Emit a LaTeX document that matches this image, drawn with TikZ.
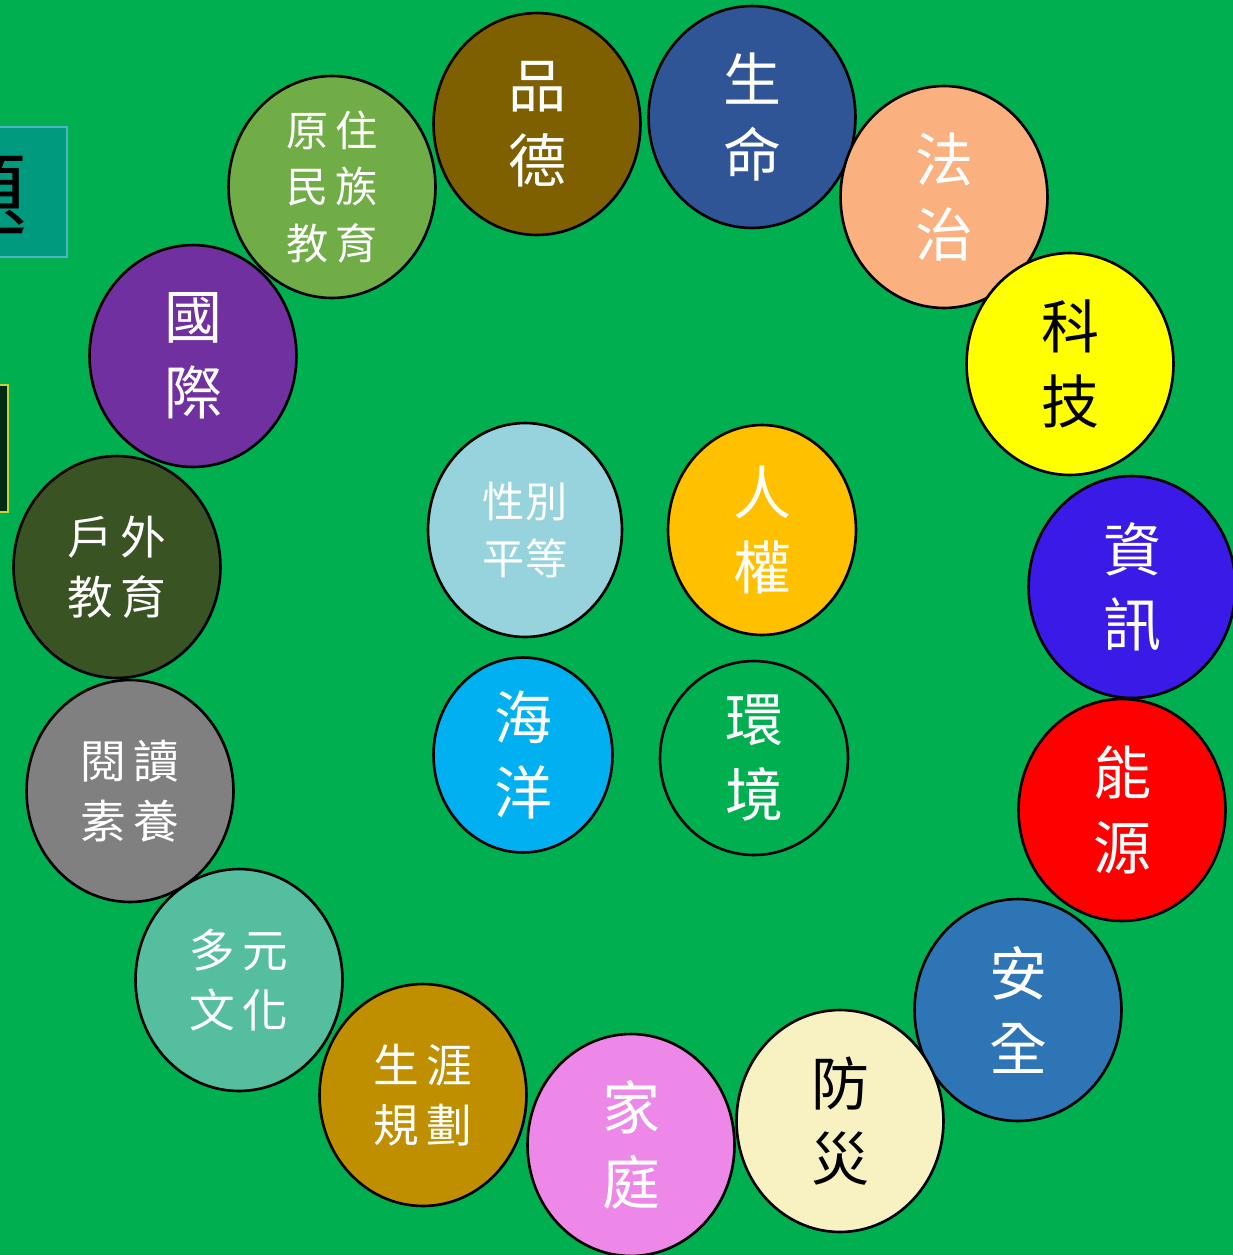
\documentclass[tikz,border=0pt]{standalone}
\usepackage{fontspec}
\newfontfamily\cjk{Noto Sans CJK TC}
\usetikzlibrary{shapes.geometric}

\definecolor{bggreen}{HTML}{00B050}
\definecolor{pinde}{HTML}{7F6000}
\definecolor{shengming}{HTML}{2F5597}
\definecolor{fazhi}{HTML}{FBB17F}
\definecolor{keji}{HTML}{FFFF00}
\definecolor{zixun}{HTML}{3A1AE6}
\definecolor{nengyuan}{HTML}{FF0000}
\definecolor{anquan}{HTML}{2E75B6}
\definecolor{fangzai}{HTML}{F8F1C2}
\definecolor{jiating}{HTML}{EE88E8}
\definecolor{shengya}{HTML}{BF8F00}
\definecolor{duoyuan}{HTML}{54BE9E}
\definecolor{yuedu}{HTML}{808080}
\definecolor{huwai}{HTML}{3A5323}
\definecolor{guoji}{HTML}{7030A0}
\definecolor{yuanzhu}{HTML}{70AD47}
\definecolor{xingbie}{HTML}{97D3DC}
\definecolor{renquan}{HTML}{FFC000}
\definecolor{haiyang}{HTML}{00B0F0}
\definecolor{titleteal}{HTML}{009A7E}
\definecolor{titleedge}{HTML}{4FB3C8}
\definecolor{darkbox}{HTML}{032B14}
\definecolor{darkedge}{HTML}{C3D33E}

\newcommand{\gap}{\hspace{0.14cm}}

\begin{document}
\begin{tikzpicture}[x=0.02cm,y=-0.02cm,
  ball/.style={ellipse,draw=black,line width=1.5pt,inner sep=0pt,text=white,align=center,
    font=\cjk\fontsize{33}{43}\selectfont},
  wide/.style={minimum width=4.14cm,minimum height=4.44cm},
  small/.style={font=\cjk\fontsize{26}{34}\selectfont},
  tiny/.style={font=\cjk\fontsize{24}{32}\selectfont}]
\useasboundingbox (0,0) rectangle (1233,1255);
\fill[bggreen] (0,0) rectangle (1233,1255);

\draw[titleedge,line width=1.5pt,fill=titleteal] (-40,127) rectangle (67,257);
\node (titlechar) at (-18,196) {\cjk\fontsize{52}{52}\selectfont 題};
\draw[darkedge,line width=1.5pt,fill=darkbox] (-40,385) rectangle (8,512);

\node[ball,wide,fill=pinde] (pinde) at (537,124) {品\\德};
\node[ball,wide,fill=shengming] (shengming) at (752,117) {生\\命};
\node[ball,wide,fill=fazhi] (fazhi) at (944,197) {法\\治};
\node[ball,wide,fill=keji,text=black] (keji) at (1070,364) {科\\技};
\node[ball,wide,fill=zixun] (zixun) at (1132,587) {資\\訊};
\node[ball,wide,fill=nengyuan] (nengyuan) at (1122,810) {能\\源};
\node[ball,wide,fill=anquan] (anquan) at (1018,1010) {安\\全};
\node[ball,wide,fill=fangzai,text=black] (fangzai) at (840,1121) {防\\災};
\node[ball,wide,fill=jiating] (jiating) at (631,1145) {家\\庭};
\node[ball,wide,fill=shengya,small] (shengya) at (423,1095) {生\gap 涯\\規\gap 劃};
\node[ball,wide,fill=duoyuan,small] (duoyuan) at (239,980) {多\gap 元\\文\gap 化};
\node[ball,wide,fill=yuedu,small] (yuedu) at (130,791) {閱\gap 讀\\素\gap 養};
\node[ball,wide,fill=huwai,small] (huwai) at (117,567) {戶\gap 外\\教\gap 育};
\node[ball,wide,fill=guoji] (guoji) at (193,356) {國\\際};
\node[ball,wide,fill=yuanzhu,tiny] (yuanzhu) at (332,187) {原\gap 住\\民\gap 族\\教\gap 育};

\node[ball,fill=xingbie,tiny,minimum width=3.88cm,minimum height=4.28cm] (xingbie) at (525,530) {性別\\平等};
\node[ball,fill=renquan,minimum width=3.76cm,minimum height=4.2cm] (renquan) at (762,530) {人\\權};
\node[ball,fill=haiyang,minimum width=3.58cm,minimum height=3.9cm] (haiyang) at (523,755) {海\\洋};
\node[ball,fill=bggreen,minimum width=3.76cm,minimum height=3.88cm] (huanjing) at (754,758) {環\\境};
\end{tikzpicture}
\end{document}
